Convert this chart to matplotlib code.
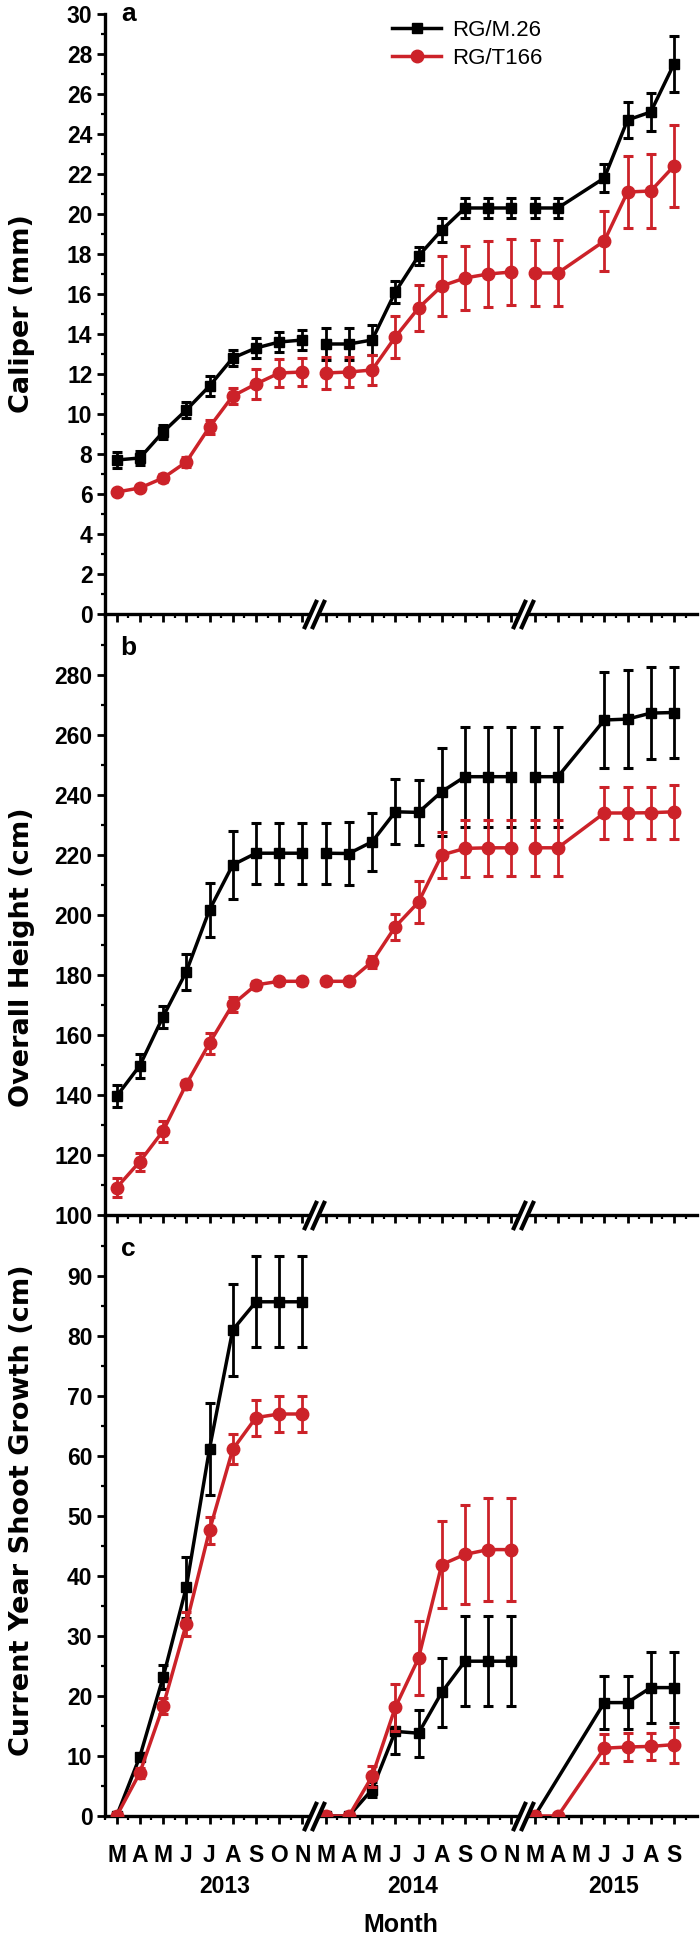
import numpy as np
import matplotlib
matplotlib.use('Agg')
import matplotlib.pyplot as plt
from matplotlib.lines import Line2D
from matplotlib.transforms import blended_transform_factory

plt.rcParams['font.family'] = ['Liberation Sans', 'DejaVu Sans']

months = ['M', 'A', 'M', 'J', 'J', 'A', 'S', 'O', 'N',
          'M', 'A', 'M', 'J', 'J', 'A', 'S', 'O', 'N',
          'M', 'A', 'M', 'J', 'J', 'A', 'S']
years = ['2013', '2014', '2015']
year_pos = [4.64, 12.75, 21.4]
segments = [(0, 9), (9, 18), (18, 25)]
breaks = [8.5, 17.5]

# caliper (mm)
cal_m26 = [7.7, 7.8, 9.1, 10.2, 11.4, 12.8, 13.3, 13.6, 13.7,
           13.5, 13.5, 13.7, 16.1, 17.9, 19.2, 20.3, 20.3, 20.3,
           20.3, 20.3, None, 21.8, 24.7, 25.1, 27.5]
cal_m26_se = [0.4, 0.35, 0.35, 0.4, 0.5, 0.4, 0.5, 0.5, 0.5,
              0.8, 0.8, 0.75, 0.55, 0.45, 0.6, 0.5, 0.5, 0.5,
              0.5, 0.5, None, 0.7, 0.9, 0.95, 1.4]
cal_t166 = [6.1, 6.3, 6.8, 7.6, 9.35, 10.9, 11.5, 12.05, 12.1,
            12.05, 12.1, 12.2, 13.85, 15.3, 16.4, 16.8, 17.0, 17.1,
            17.05, 17.05, None, 18.65, 21.1, 21.15, 22.4]
cal_t166_se = [0.15, 0.15, 0.2, 0.25, 0.35, 0.4, 0.75, 0.7, 0.7,
               0.8, 0.75, 0.75, 1.05, 1.15, 1.5, 1.6, 1.65, 1.65,
               1.65, 1.65, None, 1.5, 1.8, 1.85, 2.05]

# overall height (cm)
ht_m26 = [139.6, 149.8, 166.1, 181.1, 201.7, 216.7, 220.6, 220.6, 220.6,
          220.6, 220.5, 224.4, 234.4, 234.2, 241.1, 246.1, 246.1, 246.1,
          246.1, 246.1, None, 265.0, 265.3, 267.3, 267.5]
ht_m26_se = [3.6, 4.0, 3.7, 6.0, 8.9, 11.4, 10.2, 10.2, 10.2,
             10.2, 10.5, 9.7, 10.8, 10.8, 14.7, 16.7, 16.7, 16.7,
             16.7, 16.7, None, 16.1, 16.3, 15.3, 15.2]
ht_t166 = [109.1, 117.8, 128.0, 143.6, 157.3, 170.2, 176.7, 177.9, 177.9,
           177.9, 177.9, 184.4, 196.1, 204.3, 220.0, 222.2, 222.4, 222.4,
           222.4, 222.4, None, 234.0, 234.0, 234.1, 234.4]
ht_t166_se = [3.2, 3.0, 3.5, 1.5, 3.5, 2.5, 1.2, 1.2, 1.2,
              1.2, 1.2, 2.0, 4.3, 7.0, 7.8, 9.4, 9.4, 9.4,
              9.4, 9.4, None, 8.7, 8.7, 8.7, 9.0]

# current year shoot growth (cm)
sg_m26 = [0, 9.9, 23.1, 38.1, 61.2, 81.0, 85.7, 85.7, 85.7,
          0, 0, 4.4, 14.1, 13.8, 20.6, 25.8, 25.8, 25.8,
          0, None, None, 18.9, 18.9, 21.4, 21.4]
sg_m26_se = [0, 0.5, 2.0, 5.1, 7.7, 7.7, 7.6, 7.6, 7.6,
             0, 0, 1.3, 3.75, 3.9, 5.8, 7.5, 7.5, 7.5,
             0, None, None, 4.4, 4.4, 5.9, 5.9]
sg_t166 = [0, 7.2, 18.3, 32.0, 47.6, 61.1, 66.4, 67.0, 67.0,
           0, 0, 6.6, 18.1, 26.3, 41.9, 43.6, 44.4, 44.4,
           0, 0, None, 11.3, 11.5, 11.6, 11.9]
sg_t166_se = [0, 0.8, 1.3, 2.0, 2.3, 2.5, 3.0, 3.0, 3.0,
              0, 0, 1.7, 3.9, 6.2, 7.2, 8.3, 8.6, 8.6,
              0, 0, None, 2.4, 2.4, 2.2, 3.0]

black = 'black'
red = '#cc2229'

fig = plt.figure(figsize=(7, 19.39), dpi=100)
left, width = 0.15, 0.846
h = 600 / 1939
bottoms = [1 - 614 / 1939, 1 - 1215 / 1939, 1 - 1816 / 1939]
axes = [fig.add_axes([left, b, width, h]) for b in bottoms]


def draw_series(ax, vals, errs, color, marker, ms, z):
    for s, e in segments:
        xs = [i for i in range(s, e) if vals[i] is not None]
        ys = [vals[i] for i in xs]
        es = [errs[i] for i in xs]
        ax.errorbar(xs, ys, yerr=es, fmt='none', ecolor=color, elinewidth=2,
                    capsize=3.6, capthick=2.2, zorder=z)
        ax.plot(xs, ys, color=color, lw=2.5, marker=marker, ms=ms,
                mec=color, mfc=color, zorder=z + 0.5)


panels = [
    (cal_m26, cal_m26_se, cal_t166, cal_t166_se, (0, 30), np.arange(0, 31, 2), np.arange(1, 30, 2), 'Caliper (mm)', 0.5, 'a', 1.0),
    (ht_m26, ht_m26_se, ht_t166, ht_t166_se, (100, 300), np.arange(100, 281, 20), np.arange(110, 300, 20), 'Overall Height (cm)', 0.43, 'b', 0.945),
    (sg_m26, sg_m26_se, sg_t166, sg_t166_se, (0, 100), np.arange(0, 91, 10), np.arange(5, 100, 10), 'Current Year Shoot Growth (cm)', 0.51, 'c', 0.945),
]

for k, (ax, p) in enumerate(zip(axes, panels)):
    m26, m26_se, t166, t166_se, ylim, yt, ymt, ylab, ylab_y, letter, let_y = p
    draw_series(ax, m26, m26_se, black, 's', 7.5, 3)
    draw_series(ax, t166, t166_se, red, 'o', 9, 4)

    ax.set_xlim(-0.5, 25.0)
    ax.set_ylim(*ylim)
    ax.set_yticks(yt)
    ax.set_yticks(ymt, minor=True)
    ax.set_xticks(range(len(months)))
    ax.set_xticks(np.arange(-0.5, 25, 1), minor=True)
    for side in ['top', 'right']:
        ax.spines[side].set_visible(False)
    for side in ['left', 'bottom']:
        ax.spines[side].set_linewidth(2.4)
    ax.tick_params(which='major', direction='out', length=6, width=2,
                   labelsize=16.5, pad=3)
    ax.tick_params(which='minor', direction='out', length=3, width=1.6)
    for t in ax.get_yticklabels():
        t.set_fontweight('bold')
    ax.patch.set_alpha(0)

    ax.set_ylabel(ylab, family='DejaVu Sans', fontweight='bold', fontsize=19.5)
    ax.yaxis.set_label_coords(-0.118, ylab_y)
    ax.text(0.5, let_y, letter, transform=blended_transform_factory(ax.transData, ax.transAxes),
            ha='center', va='center', fontsize=19, fontweight='bold')

    # axis breaks
    tr = blended_transform_factory(ax.transData, ax.transAxes)
    slash = [(-0.45, -1), (0.45, 1)]
    for xb in breaks:
        ax.plot([xb], [0], marker=slash, ms=21, mew=6, color='white',
                transform=tr, clip_on=False, zorder=6)
        for dx in (-0.18, 0.18):
            ax.plot([xb + dx], [0], marker=slash, ms=21, mew=3, color='black',
                    transform=tr, clip_on=False, zorder=7)

    if k < 2:
        ax.tick_params(axis='x', which='both', labelbottom=False)
    else:
        ax.set_xticklabels(months, fontsize=16.5, fontweight='bold')
        ax.tick_params(axis='x', which='major', pad=14)
        for yl, yp in zip(years, year_pos):
            ax.text(yp, -0.117, yl, transform=tr, ha='center', va='center',
                    fontsize=16.5, fontweight='bold')
        ax.text(0.5, -0.181, 'Month', transform=ax.transAxes, ha='center',
                va='center', fontsize=18, fontweight='bold')

handles = [Line2D([], [], color=black, lw=2.5, marker='s', ms=7.5),
           Line2D([], [], color=red, lw=2.5, marker='o', ms=9)]
axes[0].legend(handles, ['RG/M.26', 'RG/T166'], loc='upper left',
               bbox_to_anchor=(0.485, 0.99), frameon=False, fontsize=16,
               handlelength=2.2, handletextpad=0.5, borderpad=0,
               borderaxespad=0, labelspacing=0.3)

fig.savefig('out.png', dpi=100)
